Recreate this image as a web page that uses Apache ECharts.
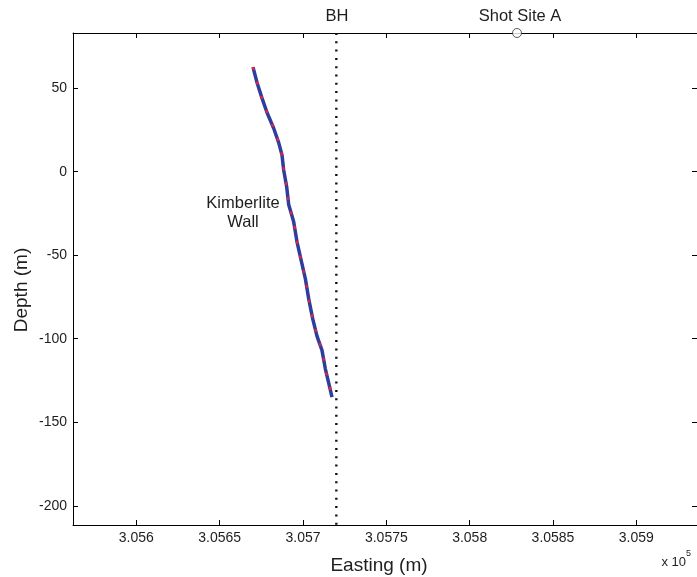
<!DOCTYPE html>
<html>
<head>
<meta charset="utf-8">
<script src="https://cdn.jsdelivr.net/npm/echarts@6/dist/echarts.min.js"></script>
<style>
html,body{margin:0;padding:0;background:#fff;}
#chart{width:697px;height:577px;}
</style>
</head>
<body>
<div id="chart"></div>
<script>
// Kimberlite wall trace: easting (m) and depth (m)
var wallEasting = [305670.0, 305672.4, 305675.4, 305678.4, 305682.4, 305685.4, 305687.4, 305688.4, 305690.2, 305691.4, 305694.4, 305696.4, 305698.8, 305701.4, 305703.4, 305705.8, 305708.4, 305711.4, 305713.4, 305715.4, 305717.4];
var wallDepth   = [62.6, 53.4, 44.0, 35.4, 26.0, 17.4, 10.0, 1.0, -9.0, -19.6, -30.0, -42.0, -52.6, -64.0, -76.0, -88.0, -98.4, -107.0, -118.0, -126.4, -135.0];
// Borehole line
var bhEasting = [305720, 305720];
var bhDepth = [83, -211.5];
// Shot site
var shotEasting = [305828.4];
var shotDepth = [83];
// Axis ticks
var xTicks = [305600, 305650, 305700, 305750, 305800, 305850, 305900];
var yTicks = [-200, -150, -100, -50, 0, 50];
var xRange = [305562, 305936.4];
var yRange = [-211.5, 83];

function zip(a, b) { return a.map(function (v, i) { return [v, b[i]]; }); }
function fmtX(v) { return (v / 1e5).toFixed(4).replace(/0+$/, '').replace(/\.$/, ''); }

var font = 'Liberation Sans, Arial, Helvetica, sans-serif';
var txt = '#1e1e1e';

var axisCommon = {
  type: 'value',
  axisLine: { show: true, onZero: false, lineStyle: { color: '#000', width: 1 } },
  splitLine: { show: false }
};

var chart = echarts.init(document.getElementById('chart'));
chart.setOption({
  animation: false,
  backgroundColor: '#fff',
  grid: { left: 73, right: 0, top: 33, bottom: 52, containLabel: false },
  xAxis: [
    Object.assign({}, axisCommon, {
      position: 'bottom', min: xRange[0], max: xRange[1],
      axisTick: { show: true, inside: true, length: 5, customValues: xTicks, lineStyle: { color: '#000' } },
      axisLabel: { show: true, customValues: xTicks, formatter: fmtX, color: txt, fontSize: 14, fontFamily: font, margin: 6 }
    }),
    Object.assign({}, axisCommon, {
      position: 'top', min: xRange[0], max: xRange[1],
      axisTick: { show: true, inside: true, length: 5, customValues: xTicks, lineStyle: { color: '#000' } },
      axisLabel: { show: false }
    })
  ],
  yAxis: [
    Object.assign({}, axisCommon, {
      position: 'left', min: yRange[0], max: yRange[1],
      axisTick: { show: true, inside: true, length: 5, customValues: yTicks, lineStyle: { color: '#000' } },
      axisLabel: { show: true, customValues: yTicks, color: txt, fontSize: 14, fontFamily: font, margin: 6 }
    }),
    Object.assign({}, axisCommon, {
      position: 'right', min: yRange[0], max: yRange[1],
      axisLine: { show: false },
      axisTick: { show: true, inside: true, length: 5, customValues: yTicks, lineStyle: { color: '#000' } },
      axisLabel: { show: false }
    })
  ],
  series: [
    {
      type: 'line', data: zip(wallEasting, wallDepth), showSymbol: false, symbol: 'none',
      lineStyle: { color: '#2e3d9e', width: 3.5 }, z: 2
    },
    {
      type: 'line', data: zip(wallEasting, wallDepth), showSymbol: false, symbol: 'none',
      lineStyle: { color: '#f0202e', width: 2.4, type: [3, 12] }, z: 3
    },
    {
      type: 'line', data: zip(bhEasting, bhDepth), showSymbol: false, symbol: 'none',
      lineStyle: { color: '#111', width: 2.4, type: [2, 6.3] }, z: 4
    },
    {
      type: 'scatter', data: zip(shotEasting, shotDepth), symbol: 'circle', symbolSize: 9, clip: false,
      itemStyle: { color: '#fff', borderColor: '#333', borderWidth: 1 }, z: 5
    }
  ],
  graphic: [
    { type: 'text', style: { text: 'BH', x: 337, y: 16, fill: txt, font: '16.5px ' + font, align: 'center', verticalAlign: 'middle' } },
    { type: 'text', style: { text: 'Shot Site A', x: 520, y: 16, fill: txt, font: '16.5px ' + font, align: 'center', verticalAlign: 'middle' } },
    { type: 'text', style: { text: 'Kimberlite\nWall', x: 243, y: 213, fill: txt, font: '16.5px ' + font, align: 'center', verticalAlign: 'middle', lineHeight: 19 } },
    { type: 'text', style: { text: 'Easting (m)', x: 379, y: 566, fill: txt, font: '19px ' + font, align: 'center', verticalAlign: 'middle' } },
    { type: 'text', rotation: Math.PI / 2, x: 22, y: 290, style: { text: 'Depth (m)', x: 0, y: 0, fill: txt, font: '19px ' + font, align: 'center', verticalAlign: 'middle' } },
    { type: 'text', style: { text: 'x 10', x: 686, y: 562, fill: txt, font: '13px ' + font, align: 'right', verticalAlign: 'middle' } },
    { type: 'text', style: { text: '5', x: 686, y: 554, fill: txt, font: '9px ' + font, align: 'left', verticalAlign: 'middle' } }
  ]
});
</script>
</body>
</html>
